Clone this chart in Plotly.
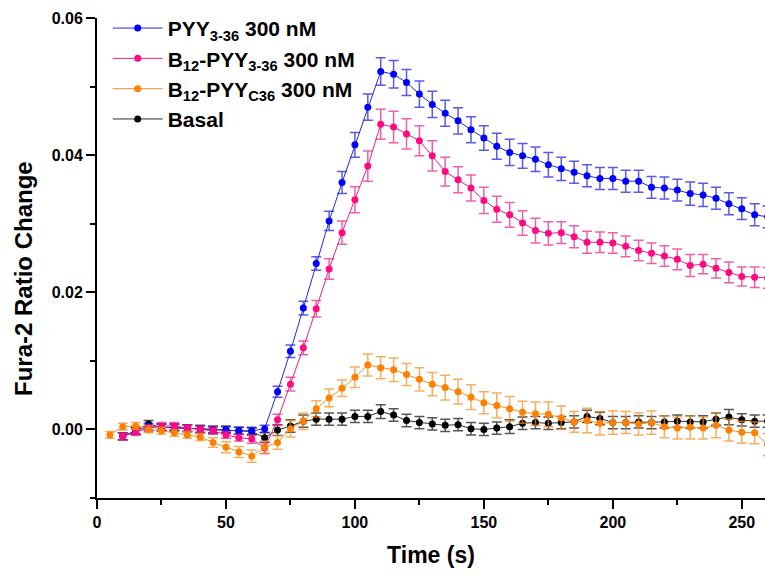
import plotly.graph_objects as go

# ---- data ----
t_main = [10, 15, 20, 25, 30, 35, 40, 45, 50, 55, 60, 65, 70, 75, 80, 85, 90, 95, 100, 105,
          110, 115, 120, 125, 130, 135, 140, 145, 150, 155, 160, 165, 170, 175, 180, 185,
          190, 195, 200, 205, 210, 215, 220, 225, 230, 235, 240, 245, 250, 255, 260]
t_orange = [5] + t_main

pyy = [-0.0010, -0.0002, 0.0004, 0.0003, 0.0003, 0.0002, 0.0000, -0.0001, -0.0001, -0.0002,
       -0.0002, 0.0001, 0.0055, 0.0114, 0.0177, 0.0242, 0.0304, 0.0360, 0.0415, 0.0470,
       0.0522, 0.0518, 0.0506, 0.0489, 0.0474, 0.0461, 0.0450, 0.0437, 0.0425, 0.0413,
       0.0404, 0.0399, 0.0394, 0.0386, 0.0380, 0.0375, 0.0370, 0.0366, 0.0366, 0.0362,
       0.0362, 0.0353, 0.0352, 0.0349, 0.0344, 0.0342, 0.0337, 0.0329, 0.0322, 0.0313, 0.0310]
pyy_err = [0.0005, 0.0005, 0.0005, 0.0005, 0.0005, 0.0005, 0.0005, 0.0005, 0.0005, 0.0005,
           0.0005, 0.0005, 0.0008, 0.0009, 0.0010, 0.0010, 0.0014, 0.0016, 0.0018, 0.0019,
           0.0020, 0.0020, 0.0019, 0.0019, 0.0019, 0.0019, 0.0019, 0.0019, 0.0018, 0.0019,
           0.0019, 0.0018, 0.0018, 0.0018, 0.0017, 0.0016, 0.0016, 0.0016, 0.0016, 0.0016,
           0.0016, 0.0016, 0.0016, 0.0016, 0.0017, 0.0017, 0.0016, 0.0016, 0.0016, 0.0016, 0.0016]

b12_pyy = [-0.0010, -0.0004, 0.0002, 0.0005, 0.0005, 0.0002, 0.0000, -0.0002, -0.0008, -0.0012,
           -0.0014, -0.0027, 0.0014, 0.0066, 0.0119, 0.0176, 0.0234, 0.0287, 0.0335, 0.0384,
           0.0445, 0.0441, 0.0431, 0.0421, 0.0399, 0.0376, 0.0364, 0.0352, 0.0334, 0.0321,
           0.0313, 0.0301, 0.0290, 0.0286, 0.0287, 0.0281, 0.0273, 0.0273, 0.0272, 0.0267,
           0.0261, 0.0257, 0.0253, 0.0248, 0.0239, 0.0241, 0.0235, 0.0229, 0.0223, 0.0222, 0.0221]
b12_pyy_err = [0.0005, 0.0005, 0.0005, 0.0005, 0.0005, 0.0005, 0.0005, 0.0005, 0.0005, 0.0005,
               0.0006, 0.0008, 0.0008, 0.0010, 0.0010, 0.0012, 0.0015, 0.0017, 0.0019, 0.0022,
               0.0022, 0.0023, 0.0022, 0.0022, 0.0022, 0.0021, 0.0019, 0.0019, 0.0019, 0.0019,
               0.0018, 0.0018, 0.0018, 0.0017, 0.0016, 0.0016, 0.0016, 0.0015, 0.0015, 0.0015,
               0.0015, 0.0015, 0.0015, 0.0015, 0.0016, 0.0014, 0.0014, 0.0015, 0.0014, 0.0015, 0.0015]

b12_c36 = [-0.0008, 0.0004, 0.0005, 0.0000, -0.0002, -0.0005, -0.0008, -0.0011, -0.0019, -0.0026,
           -0.0033, -0.0039, -0.0026, -0.0019, 0.0001, 0.0012, 0.0030, 0.0046, 0.0060, 0.0076,
           0.0094, 0.0090, 0.0087, 0.0080, 0.0073, 0.0066, 0.0061, 0.0055, 0.0047, 0.0039,
           0.0035, 0.0030, 0.0025, 0.0023, 0.0022, 0.0017, 0.0011, 0.0013, 0.0009, 0.0010,
           0.0010, 0.0008, 0.0010, 0.0004, 0.0002, 0.0003, 0.0002, 0.0006, -0.0001, -0.0004,
           -0.0005, -0.0022]
b12_c36_err = [0.0005, 0.0005, 0.0005, 0.0005, 0.0005, 0.0005, 0.0005, 0.0005, 0.0007, 0.0008,
               0.0008, 0.0009, 0.0009, 0.0010, 0.0012, 0.0012, 0.0012, 0.0013, 0.0012, 0.0015,
               0.0016, 0.0016, 0.0017, 0.0016, 0.0017, 0.0017, 0.0018, 0.0018, 0.0018, 0.0016,
               0.0018, 0.0018, 0.0016, 0.0017, 0.0018, 0.0017, 0.0015, 0.0018, 0.0017, 0.0017,
               0.0016, 0.0016, 0.0017, 0.0016, 0.0016, 0.0017, 0.0016, 0.0018, 0.0016, 0.0016,
               0.0016, 0.0016]

basal = [-0.0010, -0.0002, 0.0008, 0.0003, 0.0003, 0.0002, 0.0001, 0.0000, 0.0000, -0.0002,
         -0.0003, -0.0012, -0.0001, 0.0005, 0.0012, 0.0015, 0.0015, 0.0015, 0.0019, 0.0019,
         0.0026, 0.0021, 0.0013, 0.0010, 0.0008, 0.0006, 0.0007, 0.0001, 0.0000, 0.0002,
         0.0004, 0.0009, 0.0010, 0.0009, 0.0010, 0.0011, 0.0019, 0.0016, 0.0010, 0.0010,
         0.0011, 0.0010, 0.0011, 0.0012, 0.0011, 0.0011, 0.0015, 0.0018, 0.0014, 0.0012, 0.0012]
basal_err = [0.0005, 0.0005, 0.0005, 0.0005, 0.0005, 0.0005, 0.0005, 0.0005, 0.0005, 0.0005,
             0.0005, 0.0007, 0.0008, 0.0009, 0.0009, 0.0009, 0.0009, 0.0009, 0.0009, 0.0009,
             0.0010, 0.0009, 0.0009, 0.0009, 0.0009, 0.0009, 0.0009, 0.0009, 0.0009, 0.0009,
             0.0010, 0.0009, 0.0009, 0.0009, 0.0009, 0.0009, 0.0009, 0.0009, 0.0009, 0.0009,
             0.0009, 0.0009, 0.0009, 0.0009, 0.0009, 0.0009, 0.0009, 0.0011, 0.0009, 0.0009, 0.0009]

x_ticks = [0, 50, 100, 150, 200, 250]
y_ticks = [0.00, 0.02, 0.04, 0.06]

FONT = "Liberation Sans, Arial, sans-serif"

series = [
    # name, x, y, err, marker colour, line colour, error colour, legend rank
    ("Basal", t_main, basal, basal_err, "#000000", "#303030", "rgba(30,30,30,0.75)", 4),
    ("PYY<sub>3-36</sub> 300 nM", t_main, pyy, pyy_err, "#0000ff", "#2626e6", "rgba(20,20,220,0.7)", 1),
    ("B<sub>12</sub>-PYY<sub>3-36</sub> 300 nM", t_main, b12_pyy, b12_pyy_err, "#ff0a80", "#e8207f", "rgba(230,30,130,0.7)", 2),
    ("B<sub>12</sub>-PYY<sub>C36</sub> 300 nM", t_orange, b12_c36, b12_c36_err, "#ff8000", "#f59020", "rgba(245,140,30,0.7)", 3),
]

fig = go.Figure()
for name, xs, ys, es, mc, lc, ec, rank in series:
    fig.add_trace(go.Scatter(
        x=xs, y=ys, name=name, mode="lines+markers",
        legendrank=rank,
        line=dict(color=lc, width=1),
        marker=dict(color=mc, size=7, symbol="circle"),
        error_y=dict(type="data", array=es, visible=True, color=ec, thickness=1.5, width=5),
    ))

axis_common = dict(
    showline=True, linecolor="black", linewidth=2,
    ticks="outside", ticklen=9, tickwidth=2, tickcolor="black",
    showgrid=False, zeroline=False,
    tickfont=dict(family=FONT, size=16, color="black", weight="bold"),
)

fig.update_layout(
    width=765, height=576,
    margin=dict(l=97, r=0, t=18, b=78),
    paper_bgcolor="white", plot_bgcolor="white",
    showlegend=True,
    legend=dict(
        x=0.016, y=1.021, xanchor="left", yanchor="top",
        bgcolor="rgba(0,0,0,0)", itemwidth=50,
        font=dict(family=FONT, size=21, color="black", weight="bold"),
        tracegroupgap=0,
    ),
    xaxis=dict(
        range=[0, 259], tickvals=x_ticks, ticktext=[str(v) for v in x_ticks],
        title=dict(text="Time (s)", standoff=17,
                   font=dict(family=FONT, size=23, color="black", weight="bold")),
        minor=dict(ticks="outside", ticklen=5, tickwidth=2, tickcolor="black", dtick=25, tick0=0, showgrid=False),
        **axis_common,
    ),
    yaxis=dict(
        range=[-0.01, 0.06], tickvals=y_ticks, ticktext=["%.2f" % v for v in y_ticks],
        minor=dict(ticks="outside", ticklen=5, tickwidth=2, tickcolor="black", dtick=0.01, tick0=0, showgrid=False),
        **axis_common,
    ),
    annotations=[dict(
        text="Fura-2 Ratio Change", textangle=-90,
        xref="paper", yref="paper", x=-0.111, y=0.458,
        xanchor="center", yanchor="middle", showarrow=False,
        font=dict(family=FONT, size=24, color="black", weight="bold"),
    )],
)

fig.write_html("out.html")
